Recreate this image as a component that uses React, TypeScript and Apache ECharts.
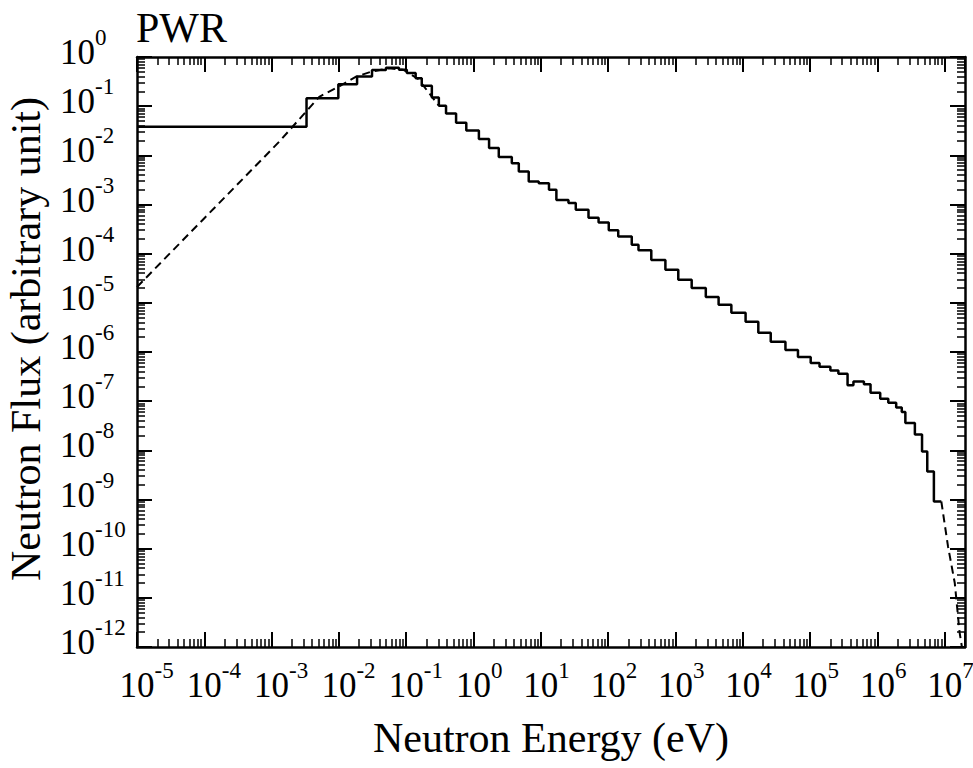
import React, { useEffect, useRef } from "react";
import * as echarts from "echarts";

// Group-wise (histogram) neutron flux: lower energy edge of each group (eV) and flux in the group
const groupEnergy = [
  1e-5, 3.3e-3, 9.8e-3, 1.86e-2, 3.1e-2, 5.0e-2, 7.8e-2, 0.102, 0.138, 0.17,
  0.24, 0.305, 0.39, 0.55, 0.78, 1.2, 1.7, 2.37, 3.7, 4.7,
  6.6, 9.3, 13.2, 17, 25.7, 33, 51, 72, 102, 141,
  224, 282, 437, 708, 1100, 1740, 2820, 4370, 6760, 1.1e4,
  1.7e4, 2.6e4, 4.3e4, 6.6e4, 1.02e5, 1.38e5, 2.0e5, 2.63e5, 3.6e5, 4.4e5,
  6.3e5, 7.9e5, 1.1e6, 1.45e6, 1.9e6, 2.3e6, 2.6e6, 3.6e6, 4.6e6, 5.5e6,
  6.9e6, 8.9e6,
];
const groupFlux = [
  3.8e-2, 0.145, 0.28, 0.4, 0.545, 0.607, 0.55, 0.47, 0.37, 0.26,
  0.15, 0.102, 7.1e-2, 4.6e-2, 3.2e-2, 2.14e-2, 1.41e-2, 9.3e-3, 6.9e-3, 4.7e-3,
  2.92e-3, 2.7e-3, 2.0e-3, 1.23e-3, 1.07e-3, 7.8e-4, 5.4e-4, 4.3e-4, 3.0e-4, 2.24e-4,
  1.51e-4, 1.17e-4, 7.4e-5, 4.7e-5, 2.95e-5, 2.0e-5, 1.32e-5, 9.1e-6, 6.3e-6, 4.1e-6,
  2.45e-6, 1.62e-6, 1.1e-6, 7.9e-7, 6.0e-7, 5.0e-7, 4.2e-7, 3.6e-7, 2.1e-7, 2.5e-7,
  2.2e-7, 1.48e-7, 1.12e-7, 9.3e-8, 7.4e-8, 6.0e-8, 3.6e-8, 2.1e-8, 9.5e-9, 3.7e-9,
  9.1e-10, 9.1e-10,
];

// Continuous (dashed) spectrum: thermal part and fast tail
const thermalEnergy = [1e-5, 1.3e-3, 5.1e-3, 1e-2, 1.8e-2, 3e-2, 5.5e-2, 9e-2, 0.15, 0.3];
const thermalFlux = [2.1e-5, 1.9e-2, 0.155, 0.25, 0.4, 0.5, 0.59, 0.55, 0.36, 0.105];
const tailEnergy = [8.9e6, 1.12e7, 1.41e7, 1.66e7, 1.8e7];
const tailFlux = [9.1e-10, 1.1e-10, 2.0e-11, 2.0e-12, 1e-12];

const FONT = "Liberation Serif";

export default function App() {
  const ref = useRef<HTMLDivElement>(null);
  useEffect(() => {
    const chart = echarts.init(ref.current!, null, { renderer: "svg" });
    const powLabel = (hanging: boolean) => (v: number) => {
      const l = Math.log10(v);
      const e = Math.round(l);
      if (Math.abs(l - e) > 1e-6) return "";
      return hanging ? `{c|10}{s|${e}}` : `{b|10}{s|${e}}`;
    };
    const rich = {
      b: { fontFamily: FONT, fontSize: 35, color: "#000", lineHeight: 44, verticalAlign: "bottom" },
      // "10" pulled left by half its width, so it sits centred on the tick and the exponent hangs right
      c: {
        fontFamily: FONT,
        fontSize: 35,
        color: "#000",
        lineHeight: 44,
        verticalAlign: "bottom",
        padding: [0, 0, 0, -17.5],
      },
      s: { fontFamily: FONT, fontSize: 23, color: "#000", lineHeight: 20, verticalAlign: "top" },
    };
    const axisLine = { show: true, lineStyle: { color: "#000", width: 2.5 } };
    const tick = { show: true, inside: true, length: 15, lineStyle: { color: "#000", width: 2 } };
    const minor = { show: true, splitNumber: 9, length: 8, lineStyle: { color: "#000", width: 1.5 } };
    const xBase = {
      type: "log" as const,
      logBase: 10,
      min: 1e-5,
      max: 2e7,
      interval: 1,
      axisLine,
      axisTick: tick,
      minorTick: minor,
      splitLine: { show: false },
      minorSplitLine: { show: false },
    };
    const yBase = {
      type: "log" as const,
      logBase: 10,
      min: 1e-12,
      max: 1,
      interval: 1,
      axisLine,
      axisTick: tick,
      minorTick: minor,
      splitLine: { show: false },
      minorSplitLine: { show: false },
    };
    chart.setOption({
      animation: false,
      backgroundColor: "#fff",
      title: {
        text: "PWR",
        left: 131,
        top: 2,
        textStyle: { fontFamily: FONT, fontSize: 42, fontWeight: "normal", color: "#000" },
      },
      grid: {
        left: 137,
        right: 8,
        top: 57,
        bottom: 121,
        containLabel: false,
        outerBoundsMode: "none",
      },
      xAxis: [
        {
          ...xBase,
          position: "bottom",
          name: "Neutron Energy (eV)",
          nameLocation: "middle",
          nameGap: 70,
          nameTextStyle: { fontFamily: FONT, fontSize: 42, color: "#000" },
          axisLabel: {
            show: true,
            interval: 0,
            hideOverlap: false,
            showMinLabel: true,
            align: "left",
            margin: 12,
            formatter: powLabel(true),
            rich,
          },
        },
        { ...xBase, position: "top", axisLabel: { show: false } },
      ],
      yAxis: [
        {
          ...yBase,
          position: "left",
          name: "Neutron Flux (arbitrary unit)",
          nameLocation: "middle",
          nameGap: 90,
          nameRotate: 90,
          nameTextStyle: { fontFamily: FONT, fontSize: 42, color: "#000", padding: [0, 0, 0, 26] },
          axisLabel: {
            show: true,
            interval: 0,
            hideOverlap: false,
            align: "left",
            margin: 77,
            padding: [0, 0, 18, 0],
            formatter: powLabel(false),
            rich,
          },
        },
        { ...yBase, position: "right", axisLabel: { show: false } },
      ],
      series: [
        {
          name: "continuous",
          type: "line",
          xAxisIndex: 0,
          yAxisIndex: 0,
          showSymbol: false,
          symbol: "none",
          data: thermalEnergy.map((e, i) => [e, thermalFlux[i]]),
          lineStyle: { color: "#000", width: 2, type: [8, 5] },
        },
        {
          name: "continuous tail",
          type: "line",
          xAxisIndex: 0,
          yAxisIndex: 0,
          showSymbol: false,
          symbol: "none",
          data: tailEnergy.map((e, i) => [e, tailFlux[i]]),
          lineStyle: { color: "#000", width: 2, type: [8, 5] },
        },
        {
          name: "group flux",
          type: "line",
          step: "end",
          xAxisIndex: 0,
          yAxisIndex: 0,
          showSymbol: false,
          symbol: "none",
          data: groupEnergy.map((e, i) => [e, groupFlux[i]]),
          lineStyle: { color: "#000", width: 2.5 },
        },
      ],
    });
    return () => chart.dispose();
  }, []);
  return (
    <div
      ref={ref}
      style={{ position: "absolute", left: 0, top: 0, width: 973, height: 768, background: "#fff" }}
    />
  );
}
